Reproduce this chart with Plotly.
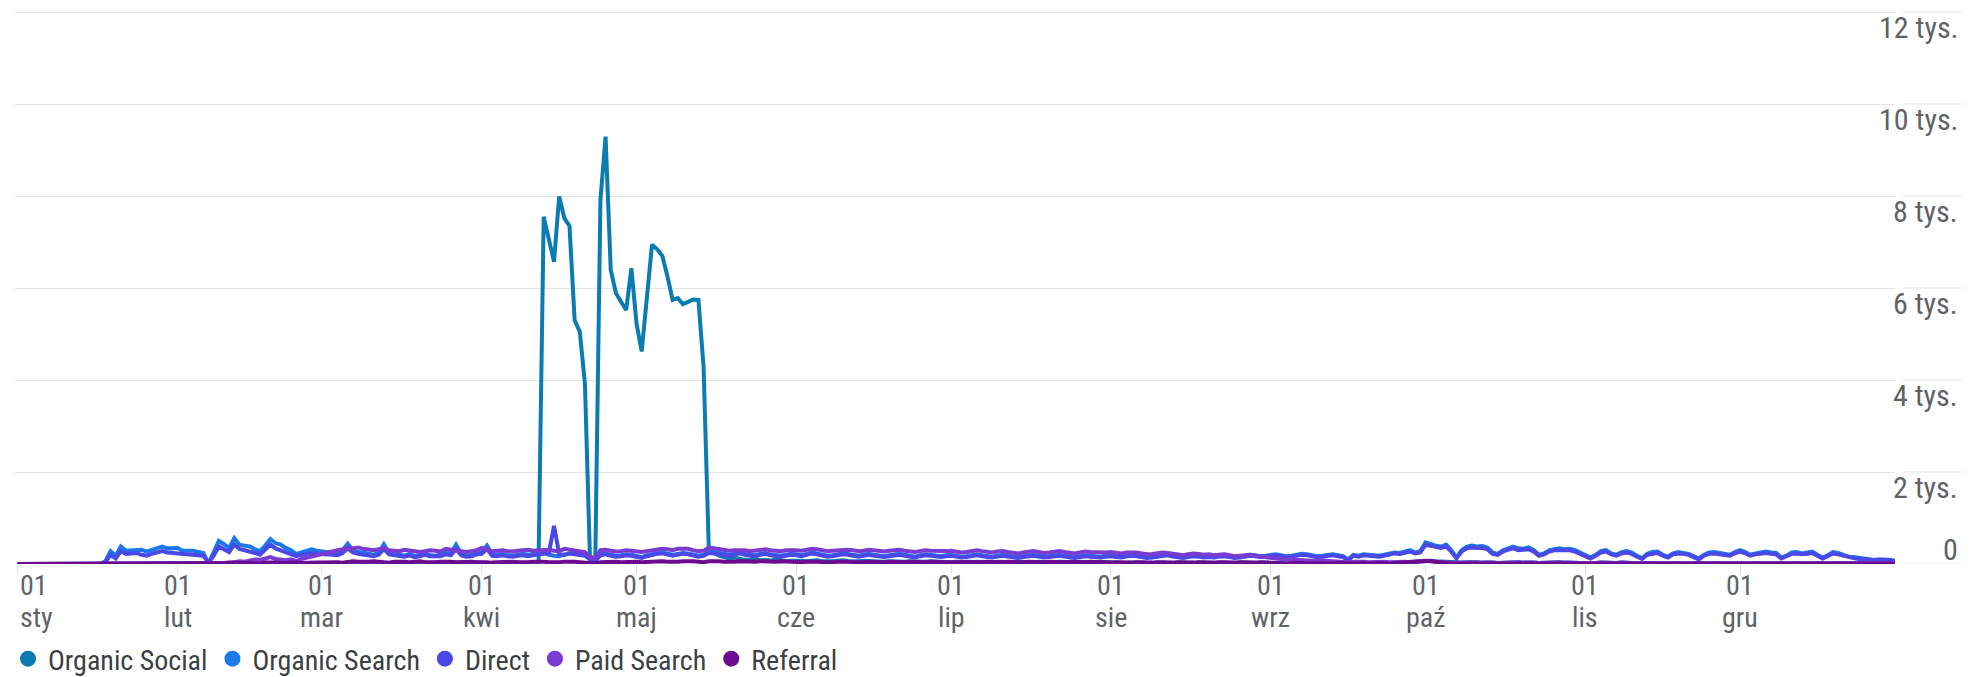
import plotly.graph_objects as go
import pandas as pd

# ---------------- data ----------------
SERIES_NAMES = ["Organic Social", "Organic Search", "Direct", "Paid Search", "Referral"]
SERIES_COLORS = ["#0b7bb3", "#1b78e8", "#4a48e6", "#7a3bd2", "#6c0a90"]

Y_TICKS = [0, 2000, 4000, 6000, 8000, 10000, 12000]
Y_LABELS = ["0", "2 tys.", "4 tys.", "6 tys.", "8 tys.", "10 tys.", "12 tys."]

MONTH_STARTS = ["2023-01-01", "2023-02-01", "2023-03-01", "2023-04-01", "2023-05-01", "2023-06-01",
                "2023-07-01", "2023-08-01", "2023-09-01", "2023-10-01", "2023-11-01", "2023-12-01"]
DAY_LABELS = ["01"] * 12
MONTH_LABELS = ["sty", "lut", "mar", "kwi", "maj", "cze", "lip", "sie", "wrz", "paź", "lis", "gru"]

organic_social = (
    [0, 0, 0, 0, 0, 0, 0, 0, 0, 0, 0, 0, 0, 0, 0, 0, 0, 0, 0, 0, 0, 0, 0, 0, 0, 0, 0, 0, 0, 0, 0]
    + [0, 0, 0, 0, 0, 0, 0, 0, 0, 0, 0, 0, 0, 0, 0, 0, 0, 0, 0, 0, 0, 0, 0, 0, 0, 0, 0, 0]
    + [0, 0, 10, 0, 10, 20, 10, 0, 10, 20, 10, 0, 10, 20, 30, 20, 10, 20, 30, 20, 10, 20, 30, 20, 10, 20, 30, 20, 10, 20, 30]
    + [20, 30, 20, 10, 20, 30, 40, 30, 20, 30, 40, 40, 7550, 7050, 6570, 7990, 7520, 7350, 5300, 5050, 3910,
       20, 30, 7910, 9290, 6390, 5890, 5700, 5520, 6430]
    + [5230, 4620, 5780, 6940, 6840, 6700, 6250, 5740, 5780, 5650, 5700, 5750, 5740, 4290, 380,
       250, 180, 150, 120, 140, 110, 90, 100, 120, 80, 90, 70, 100, 80, 60, 70]
    + [80, 70, 60, 70, 80, 60, 50, 60, 70, 80, 60, 50, 60, 70, 60, 50, 40, 50, 60, 50, 40, 50, 60, 50, 40, 50, 60, 50, 40, 50]
    + [40, 50, 40, 30, 40, 50, 40, 30, 40, 50, 40, 30, 40, 50, 40, 30, 40, 50, 40, 30, 40, 50, 40, 30, 40, 50, 40, 30, 40, 50, 40]
    + [30, 40, 30, 20, 30, 40, 30, 20, 30, 40, 30, 20, 30, 40, 30, 20, 30, 40, 30, 20, 30, 40, 30, 20, 30, 40, 30, 20, 30, 40, 30]
    + [20, 30, 20, 10, 20, 30, 20, 10, 20, 30, 20, 10, 20, 30, 20, 10, 20, 30, 20, 10, 20, 30, 20, 10, 20, 30, 40, 50, 40, 50]
    + [80, 70, 60, 50, 40, 30, 20, 30, 40, 50, 40, 30, 40, 30, 20, 30, 40, 30, 40, 30, 40, 30, 20, 30, 40, 30, 40, 30, 20, 30, 20]
    + [20, 10, 20, 30, 20, 10, 20, 30, 20, 10, 20, 10, 20, 30, 20, 10, 20, 30, 20, 10, 20, 30, 20, 10, 20, 30, 20, 10, 20, 30]
    + [20, 10, 20, 30, 20, 10, 20, 30, 20, 10, 20, 30, 20, 10, 20, 30, 20, 10, 20, 30, 20, 10, 20, 30, 20, 10, 20, 30, 20, 10, 10]
)

organic_search = (
    [0, 0, 0, 0, 0, 0, 0, 0, 0, 0, 0, 0, 0, 0, 0, 0, 0,
     60, 280, 180, 380, 290, 300, 320, 310, 270, 300, 350, 380, 340, 350]
    + [350, 290, 300, 290, 260, 240, 10, 250, 500, 430, 350, 560, 420, 400, 380, 320, 280, 400, 540, 450, 420, 350, 300, 220, 260, 300, 320, 290]
    + [280, 270, 240, 230, 300, 440, 300, 260, 250, 230, 200, 250, 430, 250, 220, 200, 180, 220, 170, 200, 230, 190, 180, 200, 250, 230, 420, 230, 180, 200, 250]
    + [260, 400, 210, 200, 230, 190, 180, 210, 220, 200, 230, 240, 250, 200, 180, 170, 210, 220, 250, 230, 210, 120, 80, 220, 230, 200, 180, 190, 210, 200]
    + [180, 150, 190, 220, 240, 250, 230, 200, 220, 240, 230, 200, 180, 200, 270, 260, 240, 220, 200, 230, 250, 220, 200, 190, 220, 240, 210, 190, 180, 200, 220]
    + [210, 190, 220, 250, 230, 200, 180, 190, 210, 230, 220, 190, 180, 200, 220, 200, 180, 170, 190, 210, 220, 200, 180, 160, 190, 210, 200, 180, 170, 190]
    + [200, 180, 160, 170, 190, 210, 190, 170, 160, 180, 200, 180, 160, 150, 170, 190, 200, 180, 160, 170, 190, 200, 180, 160, 150, 170, 190, 180, 170, 160, 180]
    + [190, 170, 160, 180, 200, 190, 170, 150, 160, 180, 200, 210, 180, 160, 150, 170, 190, 180, 160, 170, 160, 180, 190, 170, 150, 160, 180, 200, 190, 170, 180]
    + [200, 210, 190, 170, 180, 200, 220, 210, 190, 170, 180, 200, 210, 190, 170, 100, 200, 180, 210, 200, 190, 180, 200, 230, 250, 240, 260, 300, 250, 280]
    + [470, 430, 400, 380, 420, 300, 140, 300, 380, 400, 380, 390, 360, 250, 220, 300, 350, 380, 340, 330, 360, 300, 200, 230, 300, 330, 340, 320, 330, 300, 250]
    + [200, 140, 200, 280, 300, 230, 200, 260, 280, 250, 180, 130, 220, 260, 270, 200, 160, 230, 260, 250, 220, 170, 120, 200, 250, 260, 240, 220, 200, 260]
    + [300, 260, 200, 230, 260, 270, 250, 240, 140, 180, 250, 260, 230, 250, 270, 200, 140, 190, 260, 240, 200, 160, 150, 130, 110, 90, 90, 100, 100, 90, 70]
)

direct = (
    [0, 0, 0, 0, 0, 0, 0, 0, 0, 0, 0, 0, 0, 0, 0, 0, 0,
     40, 200, 120, 280, 220, 230, 240, 200, 180, 220, 260, 280, 250, 240]
    + [250, 220, 210, 200, 190, 180, 30, 180, 380, 320, 260, 420, 330, 300, 280, 240, 200, 300, 420, 340, 300, 260, 220, 170, 200, 220, 240, 220]
    + [220, 210, 200, 190, 240, 340, 250, 220, 200, 190, 170, 200, 330, 210, 190, 170, 160, 190, 150, 170, 200, 170, 160, 170, 210, 190, 320, 190, 160, 170, 210]
    + [220, 330, 180, 170, 190, 170, 160, 180, 190, 170, 200, 210, 220, 230, 830, 220, 190, 230, 210, 200, 180, 100, 70, 190, 210, 180, 160, 170, 190, 180]
    + [160, 130, 170, 200, 220, 230, 210, 180, 200, 220, 210, 180, 160, 180, 240, 230, 210, 200, 180, 210, 230, 200, 180, 170, 200, 220, 190, 170, 160, 180, 200]
    + [190, 170, 200, 230, 210, 180, 160, 170, 190, 210, 200, 170, 160, 180, 200, 180, 160, 150, 170, 190, 200, 180, 160, 140, 170, 190, 180, 160, 150, 170]
    + [180, 160, 140, 150, 170, 190, 170, 150, 140, 160, 180, 160, 140, 130, 150, 170, 180, 160, 140, 150, 170, 180, 160, 140, 130, 150, 170, 160, 150, 140, 160]
    + [170, 150, 140, 160, 180, 170, 150, 130, 140, 160, 180, 190, 160, 140, 130, 150, 170, 160, 140, 150, 140, 160, 170, 150, 130, 140, 160, 180, 170, 150, 160]
    + [180, 190, 170, 150, 160, 180, 200, 190, 170, 150, 160, 180, 190, 170, 150, 80, 180, 160, 190, 180, 170, 160, 180, 210, 230, 220, 240, 270, 230, 250]
    + [420, 390, 360, 350, 380, 270, 120, 270, 340, 360, 350, 350, 320, 220, 200, 270, 310, 340, 300, 300, 320, 270, 180, 210, 270, 300, 300, 290, 300, 270, 220]
    + [180, 120, 180, 250, 270, 210, 180, 230, 250, 220, 160, 110, 200, 230, 240, 180, 140, 210, 230, 220, 200, 150, 100, 180, 220, 230, 210, 200, 180, 230]
    + [270, 230, 180, 210, 230, 240, 220, 210, 120, 160, 220, 230, 210, 220, 240, 180, 120, 170, 230, 210, 180, 140, 130, 110, 100, 80, 80, 90, 90, 80, 60]
)

paid_search = (
    [0, 0, 0, 0, 0, 0, 0, 0, 0, 0, 0, 0, 0, 0, 0, 0, 0, 0, 0, 0, 0, 0, 0, 0, 0, 0, 0, 0, 0, 0, 0]
    + [0, 0, 0, 0, 0, 0, 0, 0, 0, 0, 20, 40, 60, 50, 80, 100, 90, 120, 150, 110, 90, 80, 100, 60, 110, 140, 170, 200]
    + [220, 250, 270, 300, 320, 350, 340, 360, 330, 310, 300, 320, 340, 300, 290, 280, 310, 300, 270, 260, 280, 300, 290, 270, 330, 310, 280, 270, 260, 280, 300]
    + [350, 310, 280, 290, 300, 280, 270, 290, 300, 310, 290, 300, 320, 310, 290, 280, 330, 310, 300, 280, 260, 150, 140, 300, 310, 290, 270, 280, 300, 290]
    + [270, 260, 280, 300, 320, 330, 320, 300, 330, 340, 330, 300, 280, 290, 350, 340, 320, 300, 290, 300, 310, 300, 280, 290, 310, 320, 300, 290, 280, 300, 310]
    + [300, 290, 310, 330, 320, 300, 280, 290, 300, 320, 310, 300, 280, 290, 310, 300, 280, 270, 290, 300, 310, 290, 280, 260, 280, 300, 290, 280, 270, 280]
    + [290, 270, 250, 260, 280, 300, 280, 260, 250, 270, 280, 260, 240, 230, 250, 270, 280, 260, 240, 250, 270, 280, 260, 240, 230, 250, 270, 260, 250, 240, 250]
    + [260, 240, 230, 250, 260, 250, 230, 210, 220, 240, 250, 240, 220, 200, 190, 210, 230, 220, 200, 210, 190, 200, 210, 190, 170, 180, 190, 200, 180, 160, 150]
    + [130, 120, 110, 100, 90, 100, 90, 80, 70, 80, 70, 60, 70, 60, 50, 40, 50, 60, 50, 40, 50, 60, 50, 40, 50, 60, 50, 40, 50, 40]
    + [60, 70, 50, 40, 50, 30, 20, 30, 40, 50, 40, 30, 40, 30, 20, 30, 40, 30, 40, 30, 40, 30, 20, 30, 40, 30, 40, 30, 20, 30, 20]
    + [20, 10, 20, 30, 20, 10, 20, 30, 20, 10, 20, 10, 20, 30, 20, 10, 20, 30, 20, 10, 20, 30, 20, 10, 20, 30, 20, 10, 20, 30]
    + [20, 10, 20, 30, 20, 10, 20, 30, 20, 10, 20, 30, 20, 10, 20, 30, 20, 10, 20, 30, 20, 10, 20, 30, 20, 10, 20, 30, 20, 10, 10]
)

referral = (
    [0, 0, 0, 0, 0, 0, 0, 0, 0, 0, 0, 0, 0, 0, 0, 0, 0, 0, 0, 0, 0, 0, 0, 0, 0, 0, 0, 0, 0, 0, 0]
    + [0, 0, 0, 0, 0, 0, 10, 20, 10, 20, 30, 20, 10, 20, 30, 20, 10, 30, 40, 30, 20, 30, 40, 30, 20, 30, 40, 30]
    + [30, 40, 50, 40, 30, 50, 60, 50, 40, 50, 60, 50, 40, 30, 50, 60, 50, 40, 50, 60, 40, 30, 40, 50, 60, 50, 40, 50, 60, 50, 40]
    + [50, 40, 30, 40, 50, 60, 50, 40, 30, 40, 50, 60, 50, 40, 30, 40, 50, 60, 50, 40, 30, 10, 10, 40, 50, 60, 50, 40, 50, 60]
    + [50, 40, 50, 60, 70, 60, 50, 40, 50, 60, 70, 60, 50, 40, 60, 70, 60, 50, 40, 50, 60, 50, 40, 50, 60, 50, 40, 50, 60, 50, 40]
    + [50, 40, 50, 60, 50, 40, 30, 40, 50, 60, 50, 40, 30, 40, 50, 40, 30, 40, 50, 40, 30, 40, 50, 40, 30, 40, 50, 40, 30, 40]
    + [40, 30, 40, 50, 40, 30, 40, 50, 40, 30, 40, 50, 40, 30, 40, 50, 40, 30, 40, 50, 40, 30, 40, 50, 40, 30, 40, 50, 40, 30, 40]
    + [30, 40, 30, 20, 30, 40, 30, 20, 30, 40, 30, 20, 30, 40, 30, 20, 30, 40, 30, 20, 30, 40, 30, 20, 30, 40, 30, 20, 30, 40, 30]
    + [20, 30, 20, 10, 20, 30, 20, 10, 20, 30, 20, 10, 20, 30, 20, 10, 20, 30, 20, 10, 20, 30, 20, 10, 20, 30, 20, 30, 40, 50]
    + [70, 60, 40, 30, 20, 10, 10, 20, 30, 20, 10, 20, 30, 20, 10, 20, 30, 20, 10, 20, 30, 20, 10, 20, 30, 20, 10, 20, 30, 20, 10]
    + [10, 20, 10, 20, 30, 20, 10, 20, 10, 20, 30, 20, 10, 20, 10, 20, 30, 20, 10, 20, 10, 20, 30, 20, 10, 20, 10, 20, 30, 20]
    + [10, 20, 10, 20, 30, 20, 10, 20, 10, 20, 30, 20, 10, 20, 10, 20, 30, 20, 10, 20, 10, 20, 30, 20, 10, 20, 10, 20, 10, 10, 10]
)

SERIES_VALUES = [organic_social, organic_search, direct, paid_search, referral]
dates = pd.date_range("2023-01-01", "2023-12-31", freq="D")
for s in SERIES_VALUES:
    assert len(s) == len(dates), len(s)

# ---------------- layout geometry ----------------
# The page body has an 8px default margin, so figure coords = page coords - 8.
OFF = 8
FONT = "Liberation Sans Narrow, Roboto Condensed, DejaVu Sans Condensed, Roboto, Arial, sans-serif"
W, H = 1970 - OFF, 677 - OFF
# plot area in page pixels
PL, PR, PT, PB = 15, 1895, 10, 564
Y0_PX, Y12_PX = 564, 12          # pixel rows of 0 and 12 000
GRID = "#e3e3e3"
TICKTXT = "#5f6368"
Y_FONT_SIZE = 30
X_FONT_SIZE = 28

y_per_px = 12000 / (Y0_PX - Y12_PX)
y_top = 12000 + (Y12_PX - PT) * y_per_px


def px_x(px):
    return (px - PL) / (PR - PL)


def px_y(py):
    return (PB - py) / (PB - PT)


x_start = pd.Timestamp("2023-01-01") - pd.Timedelta(hours=12.6)
x_end = pd.Timestamp("2023-12-31") + pd.Timedelta(hours=1)

fig = go.Figure()
for name, color, vals in zip(SERIES_NAMES, SERIES_COLORS, SERIES_VALUES):
    fig.add_trace(go.Scatter(x=dates, y=vals, mode="lines", name=name,
                             line=dict(color=color, width=4), showlegend=False,
                             hoverinfo="skip"))
# legend entries (circle symbols)
for name, color in zip(SERIES_NAMES, SERIES_COLORS):
    fig.add_trace(go.Scatter(x=[None], y=[None], mode="markers", name=name,
                             marker=dict(color=color, size=16, symbol="circle"),
                             showlegend=True))

annotations = []
# y labels on the right
for v, lab in zip(Y_TICKS, Y_LABELS):
    annotations.append(dict(x=px_x(1960), xref="paper", y=v, yref="y", text=lab,
                            showarrow=False, xanchor="right", yanchor="middle",
                            yshift=(15 if v == 0 else -15),
                            font=dict(family=FONT, size=Y_FONT_SIZE, color=TICKTXT)))
# x labels (two lines)
for i, (d, dl, ml) in enumerate(zip(MONTH_STARTS, DAY_LABELS, MONTH_LABELS)):
    anchor = "left" if i == 0 else "center"
    annotations.append(dict(x=d, xref="x", y=px_y(585), yref="paper", text=dl,
                            showarrow=False, xanchor=anchor, yanchor="middle",
                            font=dict(family=FONT, size=X_FONT_SIZE, color=TICKTXT)))
    annotations.append(dict(x=d, xref="x", y=px_y(617), yref="paper", text=ml,
                            showarrow=False, xanchor=anchor, yanchor="middle",
                            font=dict(family=FONT, size=X_FONT_SIZE, color=TICKTXT)))

shapes = []
for v in Y_TICKS:
    shapes.append(dict(type="line", xref="paper", yref="y", x0=px_x(1903), x1=px_x(1962),
                       y0=v, y1=v, line=dict(color=GRID, width=1), layer="below"))

fig.update_layout(
    width=W, height=H,
    margin=dict(l=PL - OFF, r=1970 - PR, t=PT - OFF, b=677 - PB),
    plot_bgcolor="white", paper_bgcolor="white",
    font=dict(family=FONT, size=28, color=TICKTXT),
    xaxis=dict(type="date", range=[x_start, x_end], tickvals=MONTH_STARTS,
               ticktext=[""] * len(MONTH_STARTS), showgrid=False, zeroline=False,
               showline=False, ticks="outside", ticklen=9, tickwidth=1, tickcolor="#dadce0"),
    yaxis=dict(range=[0, y_top], tickvals=Y_TICKS, showticklabels=False, showgrid=True,
               gridcolor=GRID, gridwidth=1, zeroline=False, showline=False, side="right"),
    legend=dict(orientation="h", x=px_x(5), xanchor="left", xref="paper",
                y=1 - (659 - OFF) / H, yref="container", yanchor="middle",
                font=dict(family=FONT, size=28, color="#3c4043"),
                itemwidth=30, bgcolor="rgba(0,0,0,0)", traceorder="normal"),
    annotations=annotations,
    shapes=shapes,
)

fig.write_html("out.html")
